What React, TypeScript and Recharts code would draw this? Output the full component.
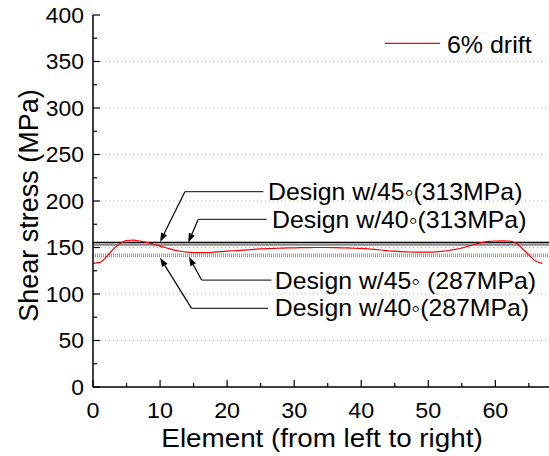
import React from 'react';
import {
  LineChart, Line, XAxis, YAxis, CartesianGrid, ReferenceLine, ReferenceDot, Legend, Label,
} from 'recharts';

// ---- data ----
const elements = [
  0, 1, 2, 3, 4, 5, 6, 7, 8, 9, 10, 11, 12, 13, 14, 15, 16, 17, 18, 19, 20, 21, 22, 23, 24, 25, 26, 27, 28, 29,
  30, 31, 32, 33, 34, 35, 36, 37, 38, 39, 40, 41, 42, 43, 44, 45, 46, 47, 48, 49, 50, 51, 52, 53, 54, 55, 56, 57,
  58, 59, 60, 61, 62, 63, 64, 65, 66, 67,
];
const drift6 = [
  133, 134, 140, 148, 154, 157.5, 158, 157, 155.5, 153.5, 151.5, 149.5, 147.5, 146, 145, 144.5, 144.5, 144.5,
  145, 145.5, 146, 146.5, 147, 147.5, 148, 148.5, 148.8, 149, 149.3, 149.5, 149.7, 149.8, 149.9, 150, 150, 150,
  149.8, 149.7, 149.5, 149.2, 149, 148.6, 148, 147.3, 146.5, 146, 145.5, 145.2, 145, 145, 145, 145.2, 145.8,
  146.8, 148, 149.5, 151.5, 153.5, 155.3, 156.5, 157, 157.2, 157, 155, 149, 142, 135.5, 133,
];
const seriesName = '6% drift';
const xTicks = [0, 5, 10, 15, 20, 25, 30, 35, 40, 45, 50, 55, 60, 65];
const yTicks = [0, 25, 50, 75, 100, 125, 150, 175, 200, 225, 250, 275, 300, 325, 350, 375, 400];
const gridValues = [50, 100, 150, 200, 250, 300, 350];
const designLevels = [155.5, 153, 142.5, 140.5];
const annotationTexts = [
  'Design w/45\u25E6(313MPa)',
  'Design w/40\u25E6(313MPa)',
  'Design w/45\u25E6 (287MPa)',
  'Design w/40\u25E6(287MPa)',
];
const annotationTips = [
  { x: 10.0, y: 156 },
  { x: 14.2, y: 155.5 },
  { x: 14.3, y: 140 },
  { x: 10.0, y: 139 },
];
const annotationElbows = [
  { x: 13.7, y: 210 },
  { x: 15.7, y: 180.3 },
  { x: 16.2, y: 115 },
  { x: 14.7, y: 84.6 },
];
const annotationEnds = [
  { x: 25.4, y: 210 },
  { x: 25.9, y: 180.3 },
  { x: 26.6, y: 115 },
  { x: 26.1, y: 84.6 },
];
const annotationTextAt = [
  { x: 26.1, y: 209.7 },
  { x: 26.7, y: 180.3 },
  { x: 27.1, y: 114 },
  { x: 27.1, y: 85 },
];

const data = elements.map((x, i) => ({ x, v: drift6[i] }));

// ---- styles ----
const FONT = '"Liberation Sans", Arial, Helvetica, sans-serif';
const levelStyles = [
  { stroke: '#000', strokeWidth: 1.5 },
  { stroke: '#888', strokeWidth: 2 },
  { stroke: '#999', strokeWidth: 2, strokeDasharray: '1 1' },
  { stroke: '#999', strokeWidth: 2, strokeDasharray: '1 1' },
];

const XTick = (props: any) => {
  const { x, y, payload } = props;
  const major = payload.value % 10 === 0;
  return (
    <g>
      <line x1={x} y1={y} x2={x} y2={y - (major ? 7 : 4)} stroke="#000" strokeWidth={1.2} />
      {major && (
        <text
          transform={`translate(${x} ${y + 31}) scale(1.06 1)`}
          textAnchor="middle"
          fontSize={22}
          fontFamily={FONT}
          fill="#000"
        >
          {payload.value}
        </text>
      )}
    </g>
  );
};

const YTick = (props: any) => {
  const { x, y, payload } = props;
  const major = payload.value % 50 === 0;
  return (
    <g>
      <line x1={x} y1={y} x2={x + (major ? 7 : 4)} y2={y} stroke="#000" strokeWidth={1.2} />
      {major && (
        <text
          transform={`translate(${x - 9} ${y + 7.9}) scale(1.04 1)`}
          textAnchor="end"
          fontSize={22}
          fontFamily={FONT}
          fill="#000"
        >
          {payload.value}
        </text>
      )}
    </g>
  );
};

const ArrowShape = (props: any) => {
  const { x1, y1, x2, y2 } = props;
  if (![x1, y1, x2, y2].every((v) => typeof v === 'number')) return null;
  const ang = Math.atan2(y2 - y1, x2 - x1);
  const len = 9;
  const hw = 3.2;
  const bx = x2 - len * Math.cos(ang);
  const by = y2 - len * Math.sin(ang);
  const px = -Math.sin(ang) * hw;
  const py = Math.cos(ang) * hw;
  return (
    <g>
      <line x1={x1} y1={y1} x2={bx} y2={by} stroke="#000" strokeWidth={1.2} />
      <polygon points={`${x2},${y2} ${bx + px},${by + py} ${bx - px},${by - py}`} fill="#000" />
    </g>
  );
};

const LegendContent = () => (
  <svg width={170} height={34} style={{ display: 'block' }}>
    <line x1={5} y1={15.3} x2={60} y2={15.3} stroke="#ff0000" strokeWidth={1.2} />
    <text transform="translate(67 25) scale(1.04 1)" fontSize={24} fontFamily={FONT} fill="#000">
      {seriesName}
    </text>
  </svg>
);

export default function App() {
  return (
    <div style={{ position: 'absolute', left: 0, top: 0, background: '#fff' }}>
      <LineChart width={549} height={456} data={data} margin={{ top: 15, right: 0, bottom: 0, left: 0 }}>
        <CartesianGrid
          vertical={false}
          horizontalValues={gridValues}
          stroke="#bbb"
          strokeDasharray="1 3"
        />
        <XAxis
          dataKey="x"
          type="number"
          domain={[0, 68]}
          ticks={xTicks}
          interval={0}
          height={69}
          tickSize={0}
          tickMargin={0}
          tickLine={false}
          tick={<XTick />}
          axisLine={{ stroke: '#000', strokeWidth: 1.5 }}
          allowDataOverflow
        >
          <Label
            content={(p: any) => {
              const vb = p.viewBox || {};
              return (
                <text
                  transform={`translate(${vb.x + vb.width / 2 + 1} ${vb.y + 59.7}) scale(1.07 1)`}
                  textAnchor="middle"
                  fontSize={26}
                  fontFamily={FONT}
                  fill="#000"
                >
                  Element (from left to right)
                </text>
              );
            }}
          />
        </XAxis>
        <YAxis
          type="number"
          domain={[0, 400]}
          ticks={yTicks}
          interval={0}
          width={93}
          tickSize={0}
          tickMargin={0}
          tickLine={false}
          tick={<YTick />}
          axisLine={{ stroke: '#000', strokeWidth: 1.5 }}
        >
          <Label
            content={(p: any) => {
              const vb = p.viewBox || {};
              const cx = vb.x + 38;
              const cy = vb.y + vb.height / 2 + 4.5;
              return (
                <text
                  x={cx}
                  y={cy}
                  transform={`rotate(-90 ${cx} ${cy})`}
                  textAnchor="middle"
                  fontSize={27}
                  fontFamily={FONT}
                  fill="#000"
                >
                  Shear stress (MPa)
                </text>
              );
            }}
          />
        </YAxis>
        {designLevels.map((lv, i) => (
          <ReferenceLine key={`lv${i}`} y={lv} {...levelStyles[i]} />
        ))}
        <Line
          dataKey="v"
          name={seriesName}
          type="monotone"
          stroke="#ff0000"
          strokeWidth={1.2}
          dot={false}
          activeDot={false}
          isAnimationActive={false}
        />
        {annotationTexts.map((t, i) => (
          <ReferenceLine
            key={`ad${i}`}
            segment={[annotationElbows[i], annotationTips[i]]}
            shape={<ArrowShape />}
          />
        ))}
        {annotationTexts.map((t, i) => (
          <ReferenceLine
            key={`ah${i}`}
            segment={[annotationElbows[i], annotationEnds[i]]}
            stroke="#333"
            strokeWidth={1.2}
          />
        ))}
        {annotationTexts.map((t, i) => (
          <ReferenceDot
            key={`at${i}`}
            x={annotationTextAt[i].x}
            y={annotationTextAt[i].y}
            r={0}
            fill="none"
            stroke="none"
            label={(p: any) => {
              const vb = p.viewBox || {};
              return (
                <text
                  transform={`translate(${vb.x} ${vb.y + 8.2}) scale(1.08 1)`}
                  fontSize={23}
                  fontFamily={FONT}
                  fill="#000"
                >
                  {t}
                </text>
              );
            }}
          />
        ))}
        <Legend
          verticalAlign="middle"
          layout="horizontal"
          content={<LegendContent />}
          wrapperStyle={{ position: 'absolute', left: 380, top: 28, width: 170, height: 34 }}
        />
      </LineChart>
    </div>
  );
}
